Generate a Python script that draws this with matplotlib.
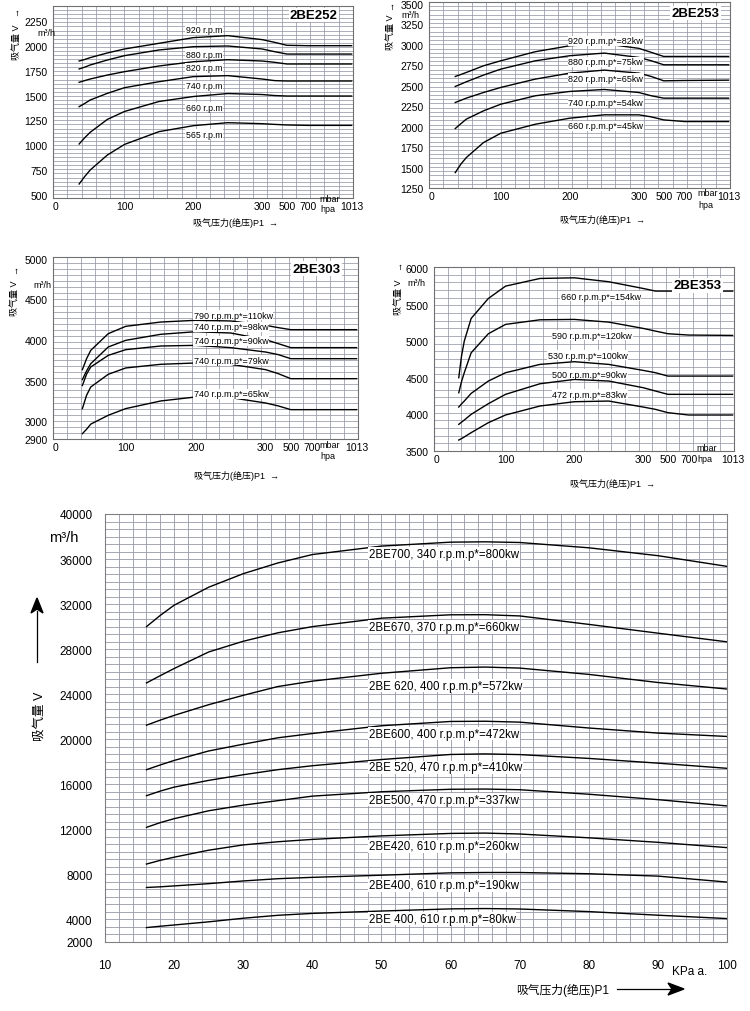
import numpy as np
import matplotlib

matplotlib.use("Agg")
import matplotlib.pyplot as plt
from matplotlib.ticker import MultipleLocator

plt.rcParams["font.family"] = ["Liberation Sans", "Noto Sans CJK SC", "DejaVu Sans"]

W, H = 750, 1012

# ---- four small charts: suction pressure P1 (mbar) vs flow V (m3/h) ----
P_TICKS = [0, 100, 200, 300, 500, 700, 1013]

BE252_P = [34, 42, 50, 75, 100, 150, 200, 250, 300, 400, 500, 700, 1013]
BE252_920 = [1847, 1862, 1881, 1928, 1968, 2025, 2082, 2102, 2062, 2035, 2005, 2001, 2001]
BE252_880 = [1767, 1785, 1807, 1857, 1901, 1958, 1991, 1998, 1968, 1941, 1917, 1917, 1917]
BE252_820 = [1633, 1650, 1666, 1706, 1740, 1797, 1840, 1860, 1847, 1834, 1817, 1817, 1817]
BE252_740 = [1388, 1420, 1455, 1522, 1579, 1639, 1690, 1700, 1666, 1650, 1646, 1646, 1646]
BE252_660 = [1013, 1075, 1130, 1260, 1340, 1440, 1490, 1520, 1510, 1500, 1495, 1495, 1495]
BE252_565 = [611, 685, 751, 902, 1009, 1137, 1197, 1227, 1217, 1210, 1204, 1200, 1200]
BE252_LABELS = ["920 r.p.m", "880 r.p.m", "820 r.p.m", "740 r.p.m", "660 r.p.m", "565 r.p.m"]
BE252_LABEL_Y = [2159, 1914, 1780, 1596, 1381, 1110]
BE252_YTICKS = [500, 750, 1000, 1250, 1500, 1750, 2000, 2250]

BE253_P = [34, 42, 50, 75, 100, 150, 200, 250, 300, 400, 500, 700, 1013]
BE253_920 = [2614, 2638, 2663, 2745, 2806, 2917, 2990, 3015, 2958, 2909, 2859, 2859, 2859]
BE253_880 = [2492, 2520, 2549, 2631, 2704, 2806, 2868, 2900, 2847, 2806, 2757, 2757, 2757]
BE253_820 = [2296, 2322, 2349, 2418, 2480, 2582, 2655, 2692, 2655, 2614, 2561, 2565, 2569]
BE253_740 = [1977, 2035, 2092, 2194, 2275, 2378, 2431, 2455, 2418, 2378, 2349, 2349, 2349]
BE253_660 = [1438, 1540, 1622, 1806, 1920, 2030, 2104, 2145, 2145, 2120, 2083, 2063, 2063]
BE253_LABELS = ["920 r.p.m.p*=82kw", "880 r.p.m.p*=75kw", "820 r.p.m.p*=65kw",
                "740 r.p.m.p*=54kw", "660 r.p.m.p*=45kw"]
BE253_LABEL_Y = [3051, 2794, 2594, 2296, 2010]
BE253_YTICKS = [1250, 1500, 1750, 2000, 2250, 2500, 2750, 3000, 3250, 3500]

BE303_P = [38, 44, 50, 75, 100, 150, 200, 250, 300, 400, 500, 700, 1013]
BE303_110 = [3635, 3770, 3873, 4078, 4168, 4221, 4242, 4234, 4180, 4152, 4127, 4127, 4127]
BE303_98 = [3512, 3620, 3709, 3914, 3996, 4070, 4102, 4086, 4004, 3955, 3906, 3906, 3906]
BE303_90 = [3440, 3580, 3668, 3811, 3881, 3926, 3934, 3906, 3852, 3820, 3770, 3770, 3770]
BE303_79 = [3156, 3320, 3422, 3578, 3656, 3701, 3717, 3701, 3635, 3586, 3524, 3524, 3524]
BE303_65 = [2930, 2955, 2984, 3074, 3156, 3250, 3299, 3291, 3225, 3189, 3143, 3143, 3143]
BE303_LABELS = ["790 r.p.m.p*=110kw", "740 r.p.m.p*=98kw", "740 r.p.m.p*=90kw",
                "740 r.p.m.p*=79kw", "740 r.p.m.p*=65kw"]
BE303_LABEL_Y = [4303, 4160, 3988, 3750, 3340]
BE303_YTICKS = [2900, 3000, 3500, 4000, 4500, 5000]

BE353_P = [32, 36, 40, 50, 75, 100, 150, 200, 250, 300, 400, 500, 700, 1013]
BE353_154 = [4504, 4800, 5005, 5316, 5589, 5758, 5863, 5872, 5818, 5726, 5690, 5690, 5690, 5690]
BE353_120 = [4298, 4450, 4572, 4845, 5106, 5234, 5297, 5302, 5265, 5179, 5142, 5106, 5088, 5083]
BE353_100 = [4102, 4145, 4184, 4289, 4458, 4572, 4686, 4723, 4686, 4604, 4572, 4526, 4526, 4526]
BE353_90 = [3865, 3895, 3924, 4002, 4148, 4276, 4421, 4480, 4458, 4367, 4321, 4276, 4276, 4276]
BE353_83 = [3650, 3670, 3692, 3751, 3888, 3993, 4116, 4175, 4184, 4102, 4070, 4025, 3993, 3993]
BE353_LABELS = ["660 r.p.m.p*=154kw", "590 r.p.m.p*=120kw", "530 r.p.m.p*=100kw",
                "500 r.p.m.p*=90kw", "472 r.p.m.p*=83kw"]
BE353_LABEL_X = [180, 168, 161, 168, 168]
BE353_LABEL_Y = [5621, 5088, 4809, 4549, 4275]
BE353_YTICKS = [3500, 4000, 4500, 5000, 5500, 6000]

# ---- large chart: suction pressure (KPa a.) vs flow V (m3/h) ----
KPA = [16, 18, 20, 25, 30, 35, 40, 50, 60, 65, 70, 80, 90, 100]
BE700 = [30000, 31000, 31900, 33500, 34700, 35650, 36400, 37150, 37500, 37530, 37470, 37000, 36300, 35350]
BE670 = [25000, 25650, 26280, 27750, 28700, 29450, 30000, 30750, 31050, 31060, 30950, 30200, 29420, 28650]
BE620 = [21250, 21700, 22120, 23070, 23900, 24680, 25160, 25860, 26350, 26410, 26320, 25760, 25040, 24460]
BE600 = [17300, 17720, 18120, 18960, 19560, 20130, 20510, 21200, 21580, 21600, 21520, 21000, 20550, 20250]
BE520 = [14990, 15400, 15750, 16350, 16850, 17300, 17650, 18200, 18650, 18700, 18640, 18300, 17880, 17420]
BE500 = [12180, 12600, 12950, 13650, 14150, 14550, 14950, 15340, 15560, 15580, 15520, 15120, 14640, 14080]
BE420 = [8920, 9250, 9530, 10150, 10620, 10900, 11110, 11420, 11640, 11670, 11590, 11250, 10850, 10380]
BE400_190 = [6840, 6900, 6980, 7180, 7420, 7620, 7740, 7930, 8140, 8170, 8170, 8060, 7850, 7320]
BE400_80 = [3280, 3400, 3510, 3790, 4110, 4370, 4540, 4750, 4940, 4970, 4930, 4700, 4380, 4080]
BIG_LABELS = ["2BE700, 340 r.p.m.p*=800kw", "2BE670, 370 r.p.m.p*=660kw",
              "2BE 620, 400 r.p.m.p*=572kw", "2BE600, 400 r.p.m.p*=472kw",
              "2BE 520, 470 r.p.m.p*=410kw", "2BE500, 470 r.p.m.p*=337kw",
              "2BE420, 610 r.p.m.p*=260kw", "2BE400, 610 r.p.m.p*=190kw",
              "2BE 400, 610 r.p.m.p*=80kw"]
BIG_LABEL_Y = [36487, 29966, 24773, 20475, 17514, 14630, 10486, 7044, 4080]
BIG_YTICKS = [2000, 4000, 8000, 12000, 16000, 20000, 24000, 28000, 32000, 36000, 40000]
BIG_XTICKS = [10, 20, 30, 40, 50, 60, 70, 80, 90, 100]

# the mbar axis of the small charts is compressed above 300
P_KNOTS = [-100, 0, 100, 200, 300, 500, 700, 1013, 2000]
U_KNOTS = [-1, 0, 1, 2, 3, 3.36, 3.66, 4.3, 6.3]


def p_fwd(p):
    return np.interp(p, P_KNOTS, U_KNOTS)


def p_inv(u):
    return np.interp(u, U_KNOTS, P_KNOTS)


# 2BE303 flow axis has a stretched step 2900..3000
def y303_fwd(y):
    y = np.asarray(y, dtype=float)
    return np.where(y < 3000, 3000 - (3000 - y) * 2.18, y)


def y303_inv(v):
    v = np.asarray(v, dtype=float)
    return np.where(v < 3000, 3000 - (3000 - v) / 2.18, v)


GRID = "#9698a8"
fig = plt.figure(figsize=(W / 100, H / 100), dpi=100)


def px_rect(l, t, r, b):
    return [l / W, 1 - b / H, (r - l) / W, (b - t) / H]


def ftext(x, y, s, **kw):
    fig.text(x / W, 1 - y / H, s, **kw)


def graph_paper(ax, ncols, nrows):
    ax.vlines(np.linspace(0, 1, ncols + 1), 0, 1, transform=ax.transAxes,
              color=GRID, lw=0.55, zorder=0)
    ax.hlines(np.linspace(0, 1, nrows + 1), 0, 1, transform=ax.transAxes,
              color=GRID, lw=0.55, zorder=0)


def small_chart(rect, ylim, yticks, ncols, nrows):
    ax = fig.add_axes(px_rect(*rect))
    ax.set_xscale("function", functions=(p_fwd, p_inv))
    ax.set_xlim(-4, 1023)
    ax.set_ylim(*ylim)
    ax.set_xticks(P_TICKS)
    ax.set_xticklabels([str(t) for t in P_TICKS])
    ax.set_yticks(yticks)
    ax.tick_params(length=0, labelsize=7.5)
    ax.tick_params(axis="x", pad=2)
    ax.tick_params(axis="y", pad=4)
    for s in ax.spines.values():
        s.set_color("#707070")
        s.set_linewidth(0.8)
    graph_paper(ax, ncols, nrows)
    return ax


def draw_curves(ax, x, series, labels, lx, ly, fs=6.3):
    for i, y in enumerate(series):
        ax.plot(x, y, color="black", lw=1.0, zorder=2)
        xi = lx[i] if isinstance(lx, list) else lx
        ax.text(xi, ly[i], labels[i], fontsize=fs, va="center", ha="left", zorder=3,
                bbox=dict(facecolor="white", edgecolor="none", pad=0.4))


def model_title(ax, x, y, s):
    ax.text(x, y, s, fontsize=9.5, fontweight="bold", ha="center", va="center", zorder=3,
            bbox=dict(facecolor="white", edgecolor="none", pad=1.0))


def side_texts(ylab_xy, arrow_xy, m3_xy, xlab_xy, mbar_xy):
    ftext(*ylab_xy, "吸气量 V", rotation=90, fontsize=6.5, ha="center", va="center")
    ftext(*arrow_xy, "→", rotation=90, fontsize=6.5, ha="center", va="center")
    ftext(*m3_xy, "m³/h", fontsize=6.5, ha="center", va="center")
    ftext(*xlab_xy, "吸气压力(绝压)P1  →", fontsize=6.5, ha="center", va="center")
    ftext(mbar_xy[0], mbar_xy[1], "mbar", fontsize=6.5, ha="center", va="center")
    ftext(mbar_xy[0] - 2, mbar_xy[1] + 11, "hpa", fontsize=6.5, ha="center", va="center")


# 2BE252
ax1 = small_chart((53, 7, 353, 199), (470, 2400), BE252_YTICKS, 21, 47)
draw_curves(ax1, BE252_P, [BE252_920, BE252_880, BE252_820, BE252_740, BE252_660, BE252_565],
            BE252_LABELS, 189, BE252_LABEL_Y)
model_title(ax1, 745, 2310, "2BE252")
side_texts((16, 42), (16, 12), (46, 33), (235, 223), (330, 199))

# 2BE253
ax2 = small_chart((429, 3, 730, 189), (1250, 3525), BE253_YTICKS, 21, 44)
draw_curves(ax2, BE253_P, [BE253_920, BE253_880, BE253_820, BE253_740, BE253_660],
            BE253_LABELS, 198, BE253_LABEL_Y, fs=6.5)
model_title(ax2, 778, 3390, "2BE253")
side_texts((391, 32), (391, 6), (410, 15), (603, 220), (708, 194))

# 2BE303
ax3 = small_chart((53, 258, 358, 440), (2900, 5021), BE303_YTICKS, 22, 30)
ax3.set_yscale("function", functions=(y303_fwd, y303_inv))
ax3.set_ylim(2900, 5021)
ax3.set_yticks(BE303_YTICKS)
ax3.set_yticklabels([str(t) for t in BE303_YTICKS])
draw_curves(ax3, BE303_P, [BE303_110, BE303_98, BE303_90, BE303_79, BE303_65],
            BE303_LABELS, 197, BE303_LABEL_Y, fs=6.5)
model_title(ax3, 730, 4877, "2BE303")
side_texts((15, 298), (15, 270), (42, 285), (237, 476), (330, 446))

# 2BE353
ax4 = small_chart((434, 268, 734, 452), (3500, 6020), BE353_YTICKS, 22, 24)
draw_curves(ax4, BE353_P, [BE353_154, BE353_120, BE353_100, BE353_90, BE353_83],
            BE353_LABELS, BE353_LABEL_X, BE353_LABEL_Y, fs=6.5)
model_title(ax4, 762, 5772, "2BE353")
side_texts((399, 297), (399, 266), (416, 283), (612, 484), (707, 449))

# large chart
ax5 = fig.add_axes(px_rect(105, 515, 727, 943))
ax5.set_xlim(10, 100)
ax5.set_ylim(2000, 40000)
ax5.set_xticks(BIG_XTICKS)
ax5.set_yticks(BIG_YTICKS)
ax5.xaxis.set_minor_locator(MultipleLocator(2))
ax5.yaxis.set_minor_locator(MultipleLocator(4000 / 6))
ax5.grid(which="both", color=GRID, lw=0.6)
ax5.set_axisbelow(True)
ax5.tick_params(which="both", length=0, labelsize=8.5)
ax5.tick_params(axis="x", pad=12)
ax5.tick_params(axis="y", pad=9)
for s in ax5.spines.values():
    s.set_color("#808080")
    s.set_linewidth(0.8)
big_series = [BE700, BE670, BE620, BE600, BE520, BE500, BE420, BE400_190, BE400_80]
draw_curves(ax5, KPA, big_series, BIG_LABELS, 48.2, BIG_LABEL_Y, fs=8.3)

ftext(64, 538, "m³/h", fontsize=10.5, ha="center", va="center")
fig.add_artist(plt.Line2D([37 / W, 37 / W], [1 - 663 / H, 1 - 612 / H], color="black", lw=0.9))
fig.add_artist(plt.Polygon([[31 / W, 1 - 614 / H], [37 / W, 1 - 599 / H], [43 / W, 1 - 614 / H],
                            [37 / W, 1 - 610 / H]], closed=True, color="black"))
ftext(40, 716, "吸气量 V", rotation=90, fontsize=9, ha="center", va="center")
ftext(563, 990, "吸气压力(绝压)P1", fontsize=8.5, ha="center", va="center")
fig.add_artist(plt.Line2D([617 / W, 672 / W], [1 - 990 / H, 1 - 990 / H], color="black", lw=0.9))
fig.add_artist(plt.Polygon([[668 / W, 1 - 984 / H], [684 / W, 1 - 990 / H], [668 / W, 1 - 996 / H],
                            [672 / W, 1 - 990 / H]], closed=True, color="black"))
ftext(690, 972, "KPa a.", fontsize=8.5, ha="center", va="center")

fig.savefig("out.png", dpi=100)
